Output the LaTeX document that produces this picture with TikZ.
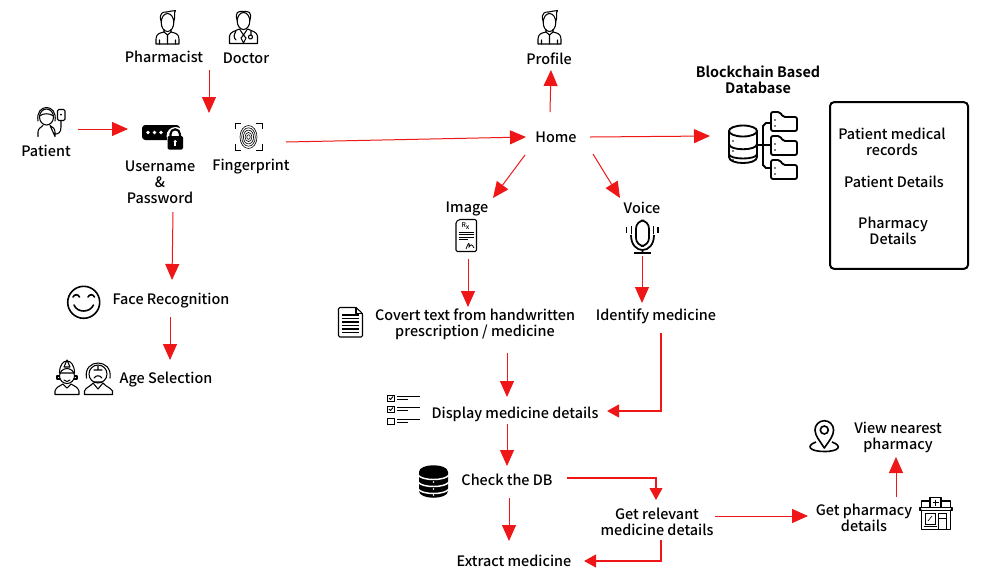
\documentclass[tikz,border=0pt]{standalone}
\usepackage{fontspec}
\setmainfont{Noto Sans CJK SC Medium}[BoldFont={Noto Sans CJK SC Bold}]
\usetikzlibrary{arrows.meta}
\usetikzlibrary{calc}

\definecolor{flowred}{RGB}{238,22,22}
\tikzset{
  lbl/.style={inner sep=0.75pt,align=center,font=\fontsize{10.8}{12}\selectfont},
  flow/.style={draw=flowred,line width=0.75pt,-{Triangle[length=12pt,width=10.5pt,fill=flowred]}},
  flowbend/.style={draw=flowred,line width=1.5pt,-{Triangle[length=9pt,width=9.5pt,fill=flowred]}},
  iconbox/.style={inner sep=0pt,draw opacity=0},
  icon/.style={line width=0.8pt,line join=round,line cap=round},
  personicon/.pic={
    \draw[icon] (0,0.5) ellipse [x radius=6.3,y radius=9];
    \draw[icon] (-6.5,-1) .. controls (-9,-9) and (-4,-10.5) .. (-1,-10) .. controls (2,-11) and (6,-11) .. (8,-11.5) .. controls (6,-9) and (8,-5) .. (6.5,-1);
    \draw[icon] (-3.5,7.5) -- (-3.5,10) .. controls (-8,11) and (-11.5,12) .. (-11.5,17) -- (-11.5,22) -- (11.5,22) -- (11.5,17) .. controls (11.5,12) and (8,11) .. (3.5,10) -- (3.5,7.5);
    \draw[icon] (-3.5,10) -- (0,13) -- (3.5,10) (0,13) -- (0,22) (-8,22) -- (-8,18) (8,22) -- (8,18);
  }
}

\begin{document}
\begin{tikzpicture}[x=0.75pt,y=0.75pt,yscale=-1,xscale=1]
\useasboundingbox (0,0) rectangle (997,583);

%Icon: Pharmacist
\pic[yscale=-1] at (167.5,22) {personicon};
%Icon: Profile
\pic[yscale=-1] at (549.5,22) {personicon};
%Icon: Doctor
\draw[icon] (243.5,21) ellipse [x radius=6.3,y radius=8.5];
\draw[icon] (237,20) .. controls (235,12) and (238,11) .. (243,11.5) .. controls (249,11) and (252,12) .. (250,20);
\draw[icon] (229.5,43.5) -- (229.5,36) .. controls (230,32) and (235,31) .. (239.5,29) -- (243.5,35) -- (247.5,29) .. controls (252,31) and (257,32) .. (257.5,36) -- (257.5,43.5) -- cycle;
\draw[icon] (243.5,35) -- (241,38) -- (243.5,43) -- (246,38) -- cycle;
\draw[icon] (236,31) .. controls (234,35) and (233,37) .. (236,40) (251,31) -- (251,35);
\draw[icon] (250.5,37) circle [radius=2];
%Icon: Patient
\node (patienticon) [iconbox,minimum width=22pt,minimum height=23pt] at (51,121) {};
\draw[icon] (46.5,117) ellipse [x radius=7,y radius=8];
\draw[icon] (38,121) .. controls (35,103) and (58,103) .. (55,121);
\draw[icon] (39.5,116) .. controls (43,113) and (50,113) .. (53.5,116);
\draw[icon] (38,136.5) -- (38,132) .. controls (38,128) and (42,127) .. (43,125.5) (50,125.5) .. controls (52,127) and (55,128) .. (55,132) -- (55,136.5) -- cycle;
\draw[icon,rounded corners=1pt] (57.5,109.5) rectangle (65,120.5);
\draw[icon] (61,120.5) -- (61,127) .. controls (61,133) and (58,134) .. (55,134);
\fill (61,114.5) circle [radius=1];
%Icon: Username and password
\node (keyicon) [iconbox,minimum width=31pt,minimum height=18pt] at (162,137) {};
\fill[rounded corners=2.5pt] (142,125) rectangle (180,140);
\foreach \dotx in {148,154.5,161} {\fill[white] (\dotx,132.5) circle [radius=1.9];}
\fill[white] (175.5,136) circle [radius=9];
\fill[rounded corners=1pt] (167.5,136) rectangle (183,149.5);
\draw[line width=1.6pt] (170.5,137) -- (170.5,134) arc [start angle=180,end angle=360,radius=4.7] -- (180,137);
\fill[white] (175.2,141.5) circle [radius=1.6];
\fill[white] (174.4,142) rectangle (176,146);
%Icon: Fingerprint
\node (fingericon) [iconbox,minimum width=20pt,minimum height=20pt] at (248.5,136.5) {};
\draw[line width=0.7pt] (235,129) -- (235,123.5) -- (241,123.5) (256,123.5) -- (262,123.5) -- (262,129) (262,144) -- (262,150) -- (256,150) (241,150) -- (235,150) -- (235,144);
\foreach \fingr in {2,4,6,8,10} {\draw[line width=0.45pt] (248.5,137) ellipse [x radius=0.85*\fingr,y radius=1.15*\fingr];}
%Icon: Smiley
\draw[line width=1.2pt] (83.7,302.3) circle [radius=16];
\draw[line width=1.2pt,line cap=round] (73,297) .. controls (74.5,294) and (78,294) .. (79.5,297);
\draw[line width=1.2pt,line cap=round] (88,297) .. controls (89.5,294) and (93,294) .. (94.5,297);
\draw[line width=1.2pt,line cap=round] (74,305) .. controls (77,313) and (90,313) .. (93.5,305);
%Icon: Young and old faces
\draw[icon] (67,376) circle [radius=7.5];
\draw[icon] (59.5,373) .. controls (59.5,357) and (74.5,357) .. (74.5,373) -- cycle;
\draw[icon] (59.5,376) -- (57,376) -- (57,379) -- (60,379) (74.5,376) -- (77,376) -- (77,379) -- (74,379);
\draw[icon] (64,380) .. controls (65.5,382) and (68.5,382) .. (70,380) (67,360) -- (64,367) -- (70,367) -- cycle;
\draw[icon] (55,394.5) -- (55,391) .. controls (56,387) and (60,386) .. (63,384) -- (67,388) -- (71,384) .. controls (74,386) and (78,387) .. (79,391) -- (79,394.5) -- cycle;
\draw[icon] (98,374) circle [radius=9];
\draw[icon] (86.5,378) .. controls (83,358) and (113,358) .. (110,378);
\draw[icon] (94,378) .. controls (96,375) and (100,375) .. (102,378) (94,370) -- (102,370) (98,366) -- (98,370) (94,382) -- (102,382);
\draw[icon] (84.5,394.5) -- (84.5,391) .. controls (86,387) and (90,387) .. (93,383) -- (98,389) -- (103,383) .. controls (106,387) and (110,387) .. (112.5,391) -- (112.5,394.5) -- cycle;
%Icon: Database with folders
\node (dbicon) [iconbox,minimum width=52pt,minimum height=50pt] at (763,145) {};
\draw[line width=1.4pt] (729,131) -- (729,157) .. controls (729,165) and (757,165) .. (757,157) -- (757,131);
\draw[line width=1.4pt] (743,131) ellipse [x radius=14,y radius=5.5];
\draw[line width=1.4pt] (729,144) .. controls (729,151) and (757,151) .. (757,144);
\draw[line width=1.4pt] (729,154) .. controls (729,160) and (757,160) .. (757,154);
\fill (733,141) circle [radius=0.8] (733,151) circle [radius=0.8] (733,160) circle [radius=0.8];
\draw[line width=1.4pt] (757,145) -- (771,145) (771,123) -- (766,123) -- (763,126) -- (763,165) -- (766,168) -- (771,168);
\foreach \foldy in {112,136,160} {
  \draw[line width=1.4pt,rounded corners=1.5pt] (771,\foldy+19) -- (771,\foldy) -- (780,\foldy) -- (783,\foldy+5) -- (797,\foldy+5) -- (797,\foldy+19) -- cycle;
  \fill (775,\foldy+8) circle [radius=0.8] (775,\foldy+14) circle [radius=0.8];
}
%Icon: Prescription
\node (rxicon) [iconbox,minimum width=16pt,minimum height=25pt] at (466.5,235.5) {};
\draw[icon,rounded corners=1pt] (459,219.5) -- (476.5,219.5) -- (476.5,251.5) -- (456,251.5) -- (456,222) -- cycle;
\node (rxmark) [inner sep=0pt,font=\fontsize{5}{5}\selectfont] at (465.5,226) {R\raisebox{-1pt}{x}};
\draw[line width=0.6pt] (458.5,232) -- (474,232) (458.5,234.5) -- (474,234.5) (458.5,237) -- (474,237) (458.5,239.5) -- (468,239.5);
\draw[line width=0.6pt] (466,249) .. controls (468,243) and (470,241) .. (469,247) .. controls (471,244) and (472,244) .. (474,248);
%Icon: Microphone
\node (micicon) [iconbox,minimum width=24pt,minimum height=25pt] at (642,236.5) {};
\draw[line width=1.3pt,rounded corners=6pt] (636,220.5) rectangle (649,246);
\draw[line width=1.3pt] (631,235) .. controls (631,255) and (654,255) .. (654,235) (642.5,249) -- (642.5,252.5);
\draw[line width=1.5pt] (634,252.5) -- (651,252.5);
\draw[line width=1.3pt] (626.5,227) -- (626.5,233) (631.5,226) -- (631.5,234) (653.5,226) -- (653.5,234) (658,227) -- (658,233);
%Icon: Document
\draw[icon,rounded corners=1pt] (338.5,307.5) -- (356,307.5) -- (362.5,313.5) -- (362.5,337) -- (338.5,337) -- cycle;
\draw[icon] (356,307.5) -- (356,313.5) -- (362.5,313.5);
\foreach \docy in {315,318.5,322,325.5,329,332.5} {\draw[line width=0.8pt] (342,\docy) -- (359,\docy);}
%Icon: Checklist
\foreach \checky in {398,409,421} {
  \draw[line width=0.7pt] (387.5,\checky-3) rectangle (394,\checky+3);
  \draw[line width=0.7pt] (397,\checky-2) -- (420,\checky-2) (397,\checky+1.5) -- (408,\checky+1.5);
}
\draw[line width=0.7pt] (389,398) -- (390.5,399.5) -- (393,396.5) (389,409) -- (390.5,410.5) -- (393,407.5);
%Icon: Server stack
\fill (419,472) .. controls (419,463) and (448,463) .. (448,472) -- (448,491) .. controls (448,500) and (419,500) .. (419,491) -- cycle;
\draw[white,line width=1.1pt] (418,475) .. controls (422,481) and (445,481) .. (449,475) (418,482) .. controls (422,488) and (445,488) .. (449,482) (418,489) .. controls (422,495) and (445,495) .. (449,489);
\foreach \servy in {483,490,496} {\fill[white] (433.5,\servy-1) circle [radius=0.9];}
%Icon: Location pin
\draw[line width=1.2pt,line join=round] (824.3,448) .. controls (820,441) and (815,436) .. (815,430) arc [start angle=180,end angle=360,radius=9.3] .. controls (833.6,436) and (829,441) .. (824.3,448) -- cycle;
\draw[line width=1.2pt] (824.3,430) circle [radius=4];
\draw[line width=1.2pt] (816,442) .. controls (805,446) and (810,451.5) .. (824.3,451.5) .. controls (839,451.5) and (843,446) .. (832,442);
%Icon: Pharmacy shop
\node (shopicon) [iconbox,minimum width=24pt,minimum height=25pt] at (936,513.5) {};
\draw[icon] (921.5,510) -- (921.5,529.5) -- (950.5,529.5) -- (950.5,510);
\draw[icon] (920,507.5) rectangle (952,510.5);
\draw[icon] (921.5,507.5) -- (921.5,501) -- (930,501) (941,501) -- (950.5,501) -- (950.5,507.5);
\draw[icon] (930,497.5) rectangle (941,507.5);
\draw[line width=0.9pt] (935.5,499.5) -- (935.5,505.5) (932.5,502.5) -- (938.5,502.5);
\draw[line width=0.6pt] (925,513.5) rectangle (935,524);
\draw[line width=0.6pt] (923.5,526) -- (936.5,526);
\draw[line width=0.5pt] (928,521) -- (932,516);
\draw[line width=0.6pt] (938.5,529.5) -- (938.5,513.5) -- (946.5,513.5) -- (946.5,529.5) (938.5,518) -- (946.5,518);

%Shape: Rounded box
\node (recordsbox) [draw,line width=1.5pt,rounded corners=3pt,inner sep=0pt,minimum width=103.5pt,minimum height=125pt] at (899,185.5) {};

% Text Node
\node (pharmacist) [lbl] at (164,57) {Pharmacist};
\node (doctor) [lbl] at (246,58) {Doctor};
\node (patient) [lbl] at (46,151) {Patient};
\node (username) [lbl] at (160,182) {Username\\\&\\Password};
\node (fingerprint) [lbl] at (251,167) {Fingerprint};
\node (home) [lbl] at (556,137) {Home};
\node (profile) [lbl] at (549,59) {Profile};
\node (blockchain) [lbl] at (758,80) {\bfseries Blockchain Based\\\bfseries Database};
\node (image) [lbl] at (467,208.5) {Image};
\node (voice) [lbl] at (642,208) {Voice};
\node (covert) [lbl] at (475,324) {Covert text from handwritten\\prescription / medicine};
\node (identify) [lbl] at (656,316) {Identify medicine};
\node (display) [lbl] at (515,414) {Display medicine details};
\node (check) [lbl] at (507,480) {Check the DB};
\node (relevant) [lbl] at (657,522) {Get relevant\\medicine details};
\node (extract) [lbl] at (514,561) {Extract medicine};
\node (nearest) [lbl] at (898,437) {View nearest\\pharmacy};
\node (shopdetails) [lbl] at (864,518) {Get pharmacy\\details};
\node (face) [lbl] at (171,301) {Face Recognition};
\node (age) [lbl] at (166,380) {Age Selection};
\node (records) [lbl] at (892,142) {Patient medical\\records};
\node (patientdet) [lbl] at (894,182) {Patient Details};
\node (pharmacydet) [lbl] at (893,231) {Pharmacy\\Details};

%Straight Lines
\draw[flow] ($(patienticon)+(27,8)$) -- ($(keyicon)+(-34,-8)$);
\draw[flow] ($(pharmacist)+(45,13)$) -- ($(keyicon)+(47,-24)$);
\draw[flow] ($(fingericon)+(37.5,5.5)$) -- ($(home)+(-30,0)$);
\draw[flow] ($(home)+(-6,-25)$) -- ($(profile)+(2,11)$);
\draw[flow] ($(home)+(34,0)$) -- ($(dbicon)+(-53,-9)$);
\draw[flow] ($(home)+(-31,18)$) -- ($(image)+(26,-10.5)$);
\draw[flow] ($(home)+(37,17)$) -- ($(voice)+(-22,-10)$);
\draw[flow] ($(rxicon)+(1.5,23.5)$) -- ($(covert)+(-7,-17)$);
\draw[flow] ($(micicon)+(0,19.5)$) -- ($(identify)+(-14,-13)$);
\draw[flow] ($(covert)+(32,29)$) -- ($(display)+(-8,-17)$);
\draw[flow] ($(display)+(-8,10)$) -- ($(check)+(0,-14)$);
\draw[flow] ($(check)+(2,18)$) -- ($(extract)+(-5,-20)$);
\draw[flow] ($(username)+(13,30)$) -- ($(face)+(1,-21)$);
\draw[flow] ($(face)+(-1,16)$) -- ($(age)+(4,-20)$);
\draw[flow] ($(shopdetails)+(32,-21)$) -- ($(nearest)+(-2,20)$);
\draw[flow] ($(relevant)+(58,-6)$) -- ($(shopdetails)+(-56,-2)$);
%Elbow Lines
\draw[flowbend] ($(identify)+(5,17)$) |- ($(display)+(92,-3)$);
\draw[flowbend] ($(check)+(60,-2)$) -| ($(relevant)+(-1,-22)$);
\draw[flowbend] ($(relevant)+(4,18)$) |- ($(extract)+(70,0)$);

\end{tikzpicture}
\end{document}
